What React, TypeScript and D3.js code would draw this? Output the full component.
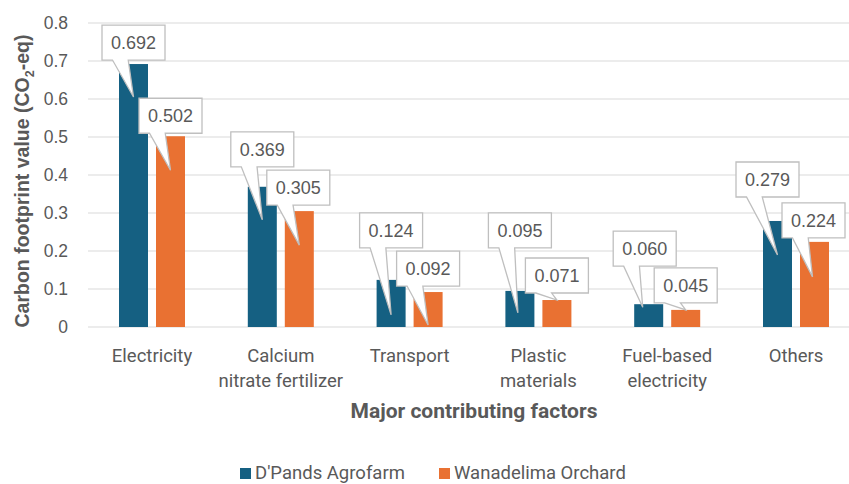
import React from "react";
import * as d3 from "d3";

// ---- data ----
const categories = ["Electricity", "Calcium nitrate fertilizer", "Transport", "Plastic materials", "Fuel-based electricity", "Others"];
const categoryLines = [["Electricity"], ["Calcium", "nitrate fertilizer"], ["Transport"], ["Plastic", "materials"], ["Fuel-based", "electricity"], ["Others"]];
const seriesNames = ["D'Pands Agrofarm", "Wanadelima Orchard"];
const dpandsValues = [0.692, 0.369, 0.124, 0.095, 0.06, 0.279];
const wanadelimaValues = [0.502, 0.305, 0.092, 0.071, 0.045, 0.224];
const yTicks = [0, 0.1, 0.2, 0.3, 0.4, 0.5, 0.6, 0.7, 0.8];

// ---- callout layout (px offsets relative to bar top / bar centre) ----
const calloutLift = [
  [4, 20, 32, 43, 38, 24],
  [3, 6, 6, 7, 7, 4],
];
const calloutTipDrop = [
  [33, 33, 35, 22, 3, 34],
  [34, 34, 33, 0, 0, 35],
];
const calloutDx = [
  [0, 0, 0, 0, -4, -10],
  [0, -1, 0, 0, 0, -1],
];
const tipDx = [
  [0, 0, 0, -2, -6, 0],
  [0, 0, 0, 0, 0, -2],
];

const W = 849;
const H = 484;
const colors = ["#156082", "#E97132"];
const textColor = "#595959";
const gridColor = "#d9d9d9";

export default function App() {
  const x = d3.scaleBand<string>().domain(categories).range([87.6, 87.6 + 6 * 128.8]).padding(0);
  const bw = x.bandwidth();
  const xSub = d3
    .scaleBand<string>()
    .domain(seriesNames)
    .range([bw / 2 - 33, bw / 2 + 33])
    .paddingInner(0.2162)
    .paddingOuter(0);
  const y = d3.scaleLinear().domain([0, 0.8]).range([327, 23]);
  const fmt = d3.format(".3f");
  const series = [dpandsValues, wanadelimaValues];

  const boxW = 63;
  const boxH = 35;

  return (
    <svg
      width={W}
      height={H}
      style={{ position: "absolute", left: 0, top: 0, background: "#fff" }}
      fontFamily="'Liberation Sans', Arial, sans-serif"
    >
      <rect x={0} y={0} width={W} height={H} fill="#fff" />
      {/* gridlines */}
      {yTicks.map((t) => (
        <line key={t} x1={88} x2={W} y1={y(t)} y2={y(t)} stroke={gridColor} strokeWidth={1.2} />
      ))}
      {/* y tick labels */}
      {yTicks.map((t) => (
        <text key={"l" + t} x={68} y={y(t) + 6} textAnchor="end" fontSize={17.5} fill={textColor}>
          {d3.format("")(t)}
        </text>
      ))}
      {/* y axis title */}
      <text
        transform={`translate(29,181) rotate(-90)`}
        textAnchor="middle"
        fontSize={19.5}
        fontWeight="bold"
        fill={textColor}
      >
        Carbon footprint value (CO
        <tspan fontSize={12.5} dy={5}>2</tspan>
        <tspan dy={-5}>-eq)</tspan>
      </text>
      {/* bars */}
      {series.map((vals, si) =>
        vals.map((v, i) => (
          <rect
            key={`b${si}-${i}`}
            x={(x(categories[i]) as number) + (xSub(seriesNames[si]) as number)}
            y={y(v)}
            width={xSub.bandwidth()}
            height={y(0) - y(v)}
            fill={colors[si]}
          />
        ))
      )}
      {/* callouts */}
      {series.map((vals, si) =>
        vals.map((v, i) => {
          const cx = (x(categories[i]) as number) + (xSub(seriesNames[si]) as number) + xSub.bandwidth() / 2;
          const top = y(v);
          const bx = cx + calloutDx[si][i] - boxW / 2;
          const bBottom = top - calloutLift[si][i];
          const bTop = bBottom - boxH;
          const tx = cx + tipDx[si][i];
          const ty = Math.min(top + calloutTipDrop[si][i], y(0) - 2);
          const x1 = bx + (boxW * 2) / 12;
          const x2 = bx + (boxW * 5) / 12;
          const d = `M${bx},${bTop} L${bx + boxW},${bTop} L${bx + boxW},${bBottom} L${x2},${bBottom} L${tx},${ty} L${x1},${bBottom} L${bx},${bBottom} Z`;
          return (
            <g key={`c${si}-${i}`}>
              <path d={d} fill="#fff" stroke="#bfbfbf" strokeWidth={1.3} strokeLinejoin="miter" />
              <text x={bx + boxW / 2} y={bTop + boxH / 2 + 6.5} textAnchor="middle" fontSize={18} fill={textColor}>
                {fmt(v)}
              </text>
            </g>
          );
        })
      )}
      {/* category labels */}
      {categoryLines.map((lines, i) => (
        <text
          key={"c" + i}
          x={(x(categories[i]) as number) + bw / 2}
          y={362}
          textAnchor="middle"
          fontSize={18.5}
          fontFamily="Roboto, sans-serif"
          fill={textColor}
        >
          {lines.map((ln, j) => (
            <tspan key={j} x={(x(categories[i]) as number) + bw / 2} dy={j === 0 ? 0 : 25}>
              {ln}
            </tspan>
          ))}
        </text>
      ))}
      {/* x axis title */}
      <text
        x={(x(categories[0]) as number) + bw * 3}
        y={418}
        textAnchor="middle"
        fontSize={21}
        fontWeight="bold"
        fontFamily="Roboto, sans-serif"
        fill={textColor}
      >
        Major contributing factors
      </text>
      {/* legend */}
      {seriesNames.map((name, si) => {
        const lx = si === 0 ? 240 : 439;
        return (
          <g key={"lg" + si}>
            <rect x={lx} y={468} width={11} height={11} fill={colors[si]} />
            <text x={lx + 15} y={479} fontSize={18.5} fontFamily="Roboto, sans-serif" fill={textColor}>
              {name}
            </text>
          </g>
        );
      })}
    </svg>
  );
}
